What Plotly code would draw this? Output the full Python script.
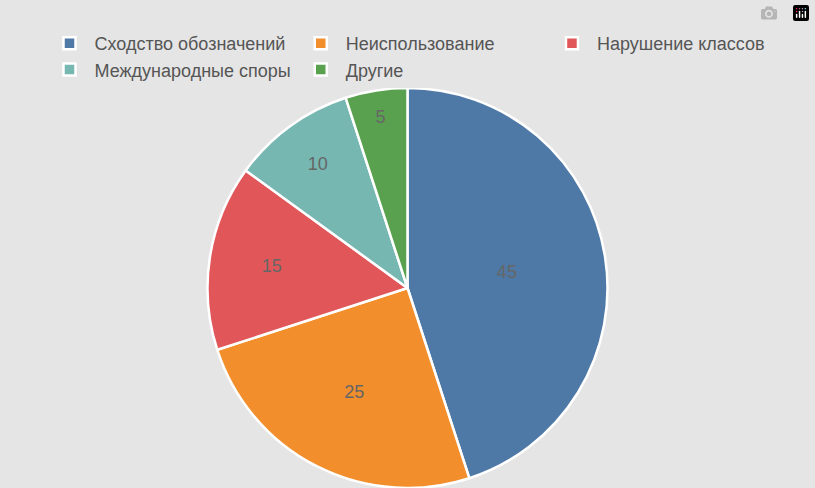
import plotly.graph_objects as go

labels = ["Сходство обозначений", "Неиспользование", "Нарушение классов", "Международные споры", "Другие"]
values = [45, 25, 15, 10, 5]
colors = ["#4e79a7", "#f28e2b", "#e15759", "#76b7b2", "#59a14f"]

fig = go.Figure(go.Pie(
    labels=labels, values=values, sort=False, direction="clockwise", rotation=0,
    marker=dict(colors=colors, line=dict(color="white", width=2.5)),
    textinfo="value", textposition="inside", insidetextorientation="horizontal",
    textfont=dict(color="#666666", size=18),
))
fig.update_layout(
    width=815, height=488, paper_bgcolor="#e5e5e5",
    font=dict(family="Liberation Sans, Arial, sans-serif", size=18, color="#555555"),
    margin=dict(t=88, b=0, l=0, r=0),
    legend=dict(orientation="h", x=0.5, xanchor="center", y=1.0, yanchor="bottom",
                font=dict(size=18, color="#555555"), itemwidth=40),
)
fig.write_html("out.html", post_script="document.body.style.margin='0';")
